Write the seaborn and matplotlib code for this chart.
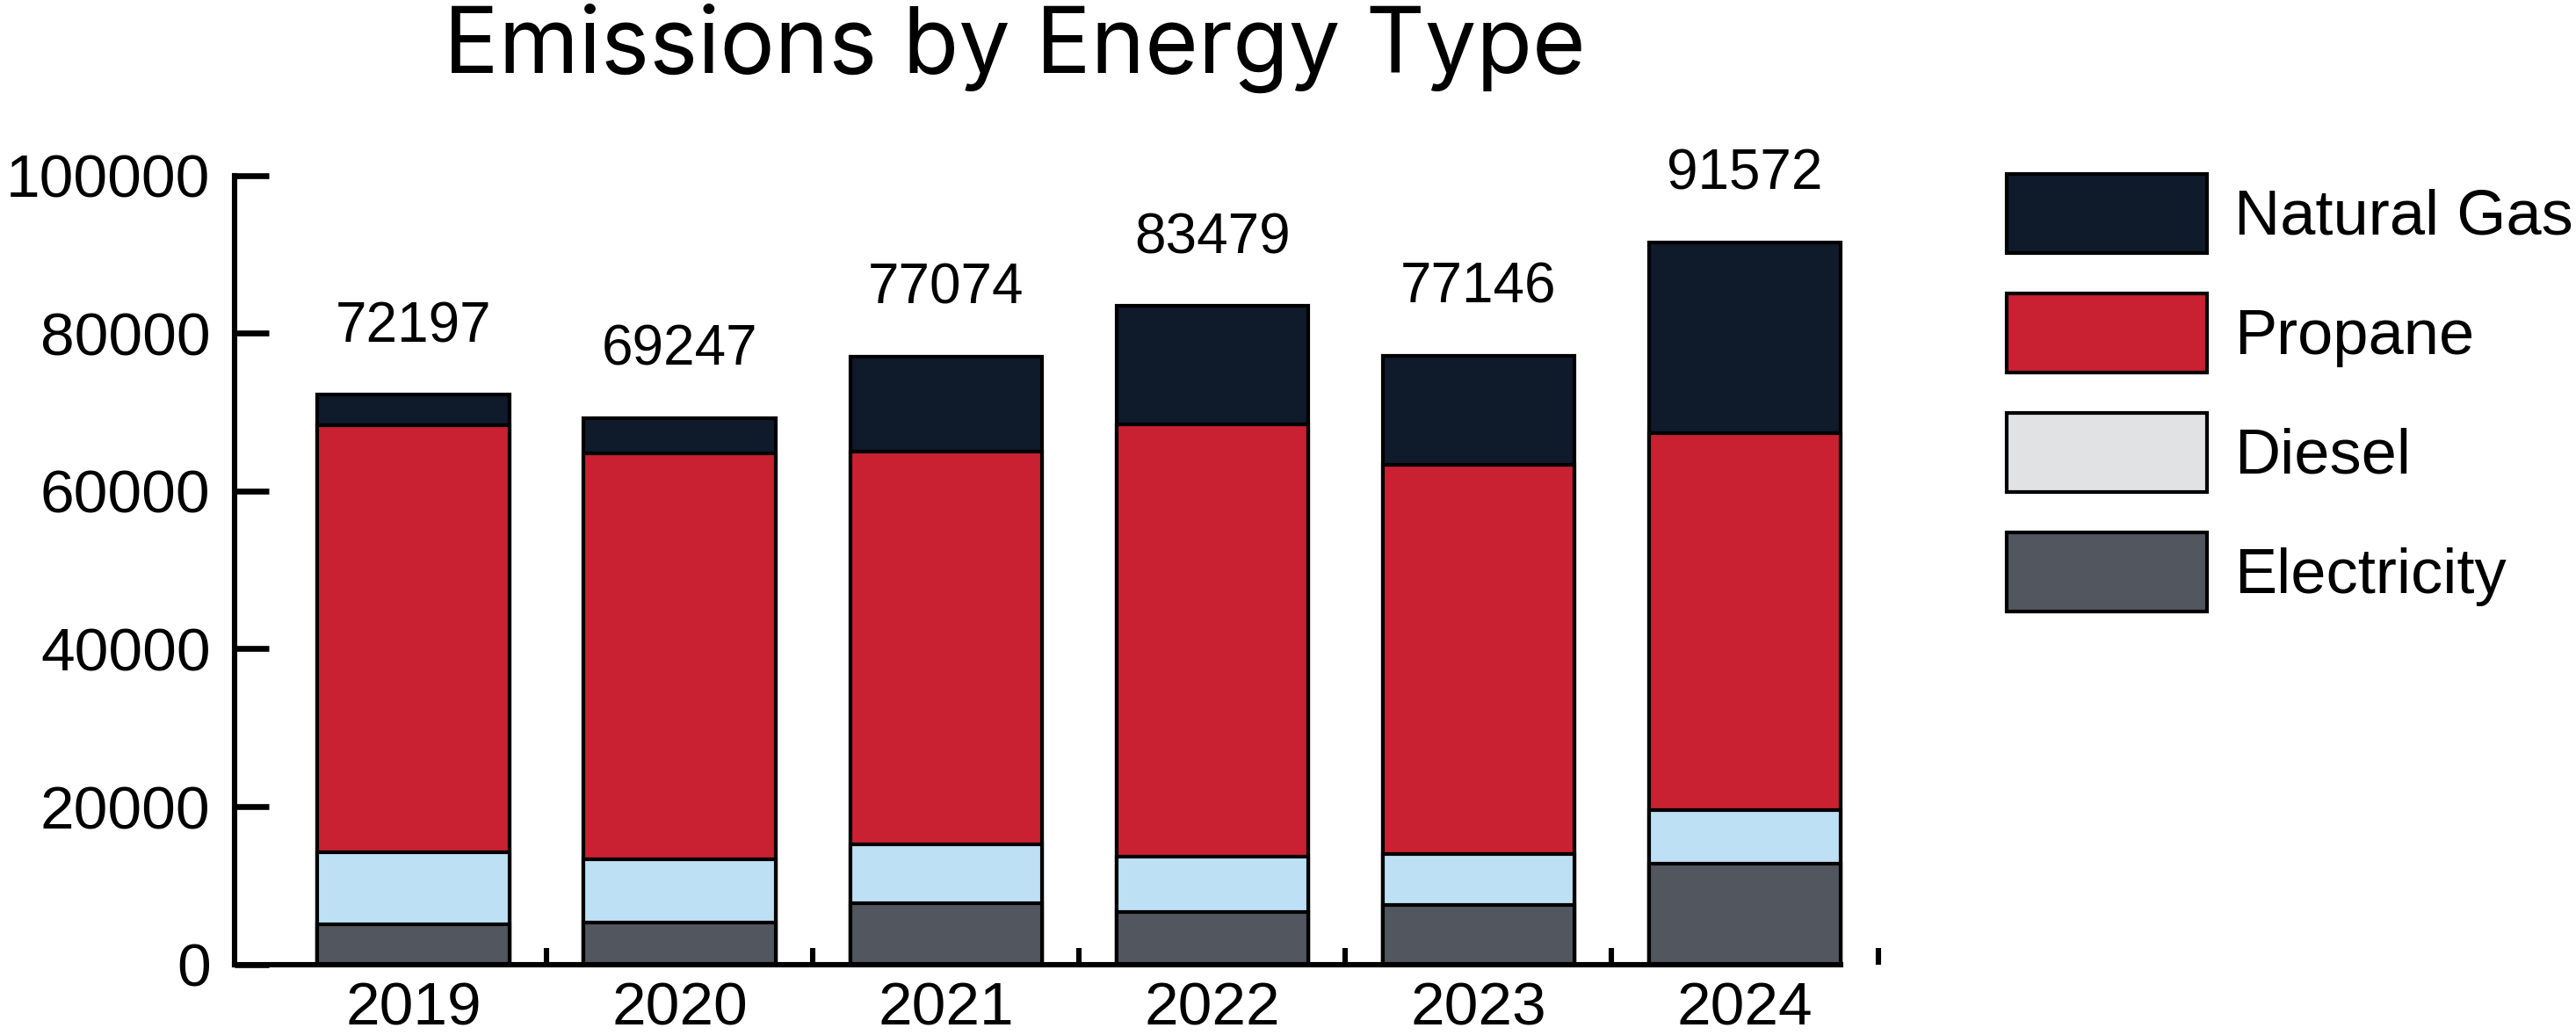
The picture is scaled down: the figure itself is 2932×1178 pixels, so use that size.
import numpy as np
import pandas as pd
import matplotlib
matplotlib.use("Agg")
import matplotlib.pyplot as plt
import seaborn as sns
from matplotlib.patches import Patch
from matplotlib.ticker import FixedLocator

# Dados
anos = ["2019", "2020", "2021", "2022", "2023", "2024"]
eletricidade = [5100, 5300, 7800, 6600, 7500, 12800]
diesel = [9100, 8050, 7400, 7100, 6500, 6800]
propano = [54200, 51450, 49800, 54800, 49300, 47700]
gas_natural = [3797, 4447, 12074, 14979, 13846, 24272]
totais = [72197, 69247, 77074, 83479, 77146, 91572]

legenda = ["Natural Gas", "Propane", "Diesel", "Electricity"]
cor_gas = "#0F1A2B"
cor_propano = "#C92032"
cor_diesel = "#BDE0F5"
cor_diesel_leg = "#E0E2E3"
cor_eletr = "#52565E"

sns.set_style("white", {"axes.edgecolor": "black", "text.color": "black",
                        "xtick.color": "black", "ytick.color": "black"})
plt.rcParams["font.family"] = ["Liberation Sans", "DejaVu Sans"]

df = pd.DataFrame({"ano": anos, "eletr": eletricidade, "diesel": diesel,
                   "propano": propano, "gas": gas_natural})
df["c1"] = df["eletr"]
df["c2"] = df["c1"] + df["diesel"]
df["c3"] = df["c2"] + df["propano"]
df["c4"] = df["c3"] + df["gas"]

fig = plt.figure(figsize=(14.66, 5.89), dpi=200)
ax = fig.add_axes([0.0912, 0.0683, 0.643, 0.762])

# barras empilhadas (do topo para baixo)
for col, cor in [("c4", cor_gas), ("c3", cor_propano), ("c2", cor_diesel), ("c1", cor_eletr)]:
    sns.barplot(data=df, x="ano", y=col, color=cor, width=0.72, order=anos,
                edgecolor="black", linewidth=1.5, saturation=1, ax=ax)

# valores totais
for i, t in enumerate(totais):
    ax.text(i, t + 8600, str(t), ha="center", va="center", fontsize=23,
            color="black", clip_on=False)

ax.set_xlim(-0.67, 5.55)
ax.set_ylim(0, 100000)
ax.set_yticks([0, 20000, 40000, 60000, 80000, 100000])
ax.set_yticklabels(["0", "20000", "40000", "60000", "80000", "100000"])
ax.set_xlabel("")
ax.set_ylabel("")

sns.despine(ax=ax)
ax.spines["left"].set_linewidth(2.2)
ax.spines["bottom"].set_linewidth(2.2)
ax.spines["left"].set_bounds(0, 100000)
ax.spines["bottom"].set_bounds(-0.67, 5.36)

ax.tick_params(axis="y", direction="in", left=True, length=14, width=2.4, pad=10,
               labelsize=25, colors="black")
ax.tick_params(axis="x", which="major", length=0, pad=7, labelsize=25, colors="black")
ax.xaxis.set_minor_locator(FixedLocator([0.5, 1.5, 2.5, 3.5, 4.5, 5.5]))
ax.tick_params(axis="x", which="minor", direction="in", length=7, width=2.2,
               bottom=True, colors="black")

# título
fig.text(0.394, 0.93, "Emissions by Energy Type", ha="center", va="baseline",
         fontsize=37.5, color="black", family=["Inter", "DejaVu Sans"])

# legenda
handles = [Patch(facecolor=c, edgecolor="black", linewidth=1.5)
           for c in [cor_gas, cor_propano, cor_diesel_leg, cor_eletr]]
fig.legend(handles, legenda, loc="upper left", bbox_to_anchor=(0.779, 0.832),
           frameon=False, fontsize=26, handlelength=3.15, handleheight=1.55,
           handletextpad=0.44, labelspacing=0.63, borderpad=0, borderaxespad=0,
           labelcolor="black")

fig.savefig("out.png", dpi=200)
